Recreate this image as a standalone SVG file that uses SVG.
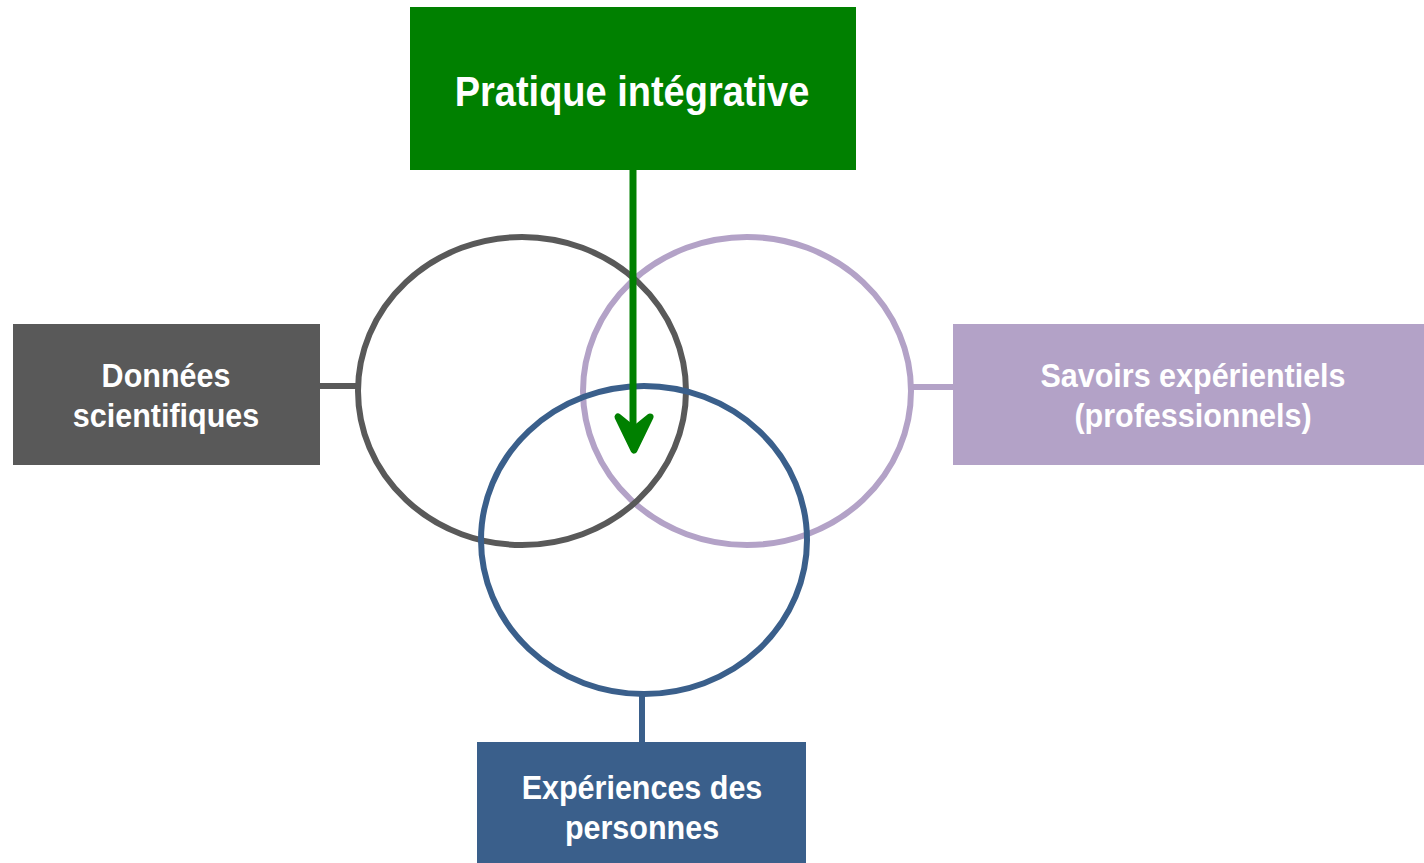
<svg xmlns="http://www.w3.org/2000/svg" width="1424" height="863" viewBox="0 0 1424 863">
<style>
.lbl{font-family:"Liberation Sans",Arial,sans-serif;font-weight:bold;fill:#ffffff;text-anchor:middle}
.ring{fill:none;stroke-width:6}
</style>
<rect width="1424" height="863" fill="#ffffff"/>
<g id="connectors">
<line x1="320" y1="386" x2="358" y2="386" stroke="#595959" stroke-width="6"/>
<line x1="911" y1="387" x2="953" y2="387" stroke="#b3a2c7" stroke-width="6"/>
<line x1="642" y1="694" x2="642" y2="742" stroke="#3a5f8b" stroke-width="6"/>
</g>
<g id="circles">
<ellipse id="circle-exp" class="ring" cx="747" cy="391" rx="164" ry="154" stroke="#b3a2c7"/>
<ellipse id="circle-sci" class="ring" cx="522" cy="391" rx="164" ry="154" stroke="#595959"/>
<ellipse id="circle-pers" class="ring" cx="644" cy="540" rx="163" ry="154" stroke="#3a5f8b"/>
</g>
<g id="arrow">
<line x1="633" y1="170" x2="633" y2="438" stroke="#008000" stroke-width="7"/>
<path d="M618,417 L634,450 L650,417 L634,430 Z" fill="#008000" stroke="#008000" stroke-width="7" stroke-linejoin="round" stroke-linecap="round"/>
</g>
<g id="node-pratique">
<rect x="410" y="7" width="446" height="163" fill="#008000"/>
<text class="lbl" transform="translate(632,106) scale(1,1.12)" font-size="38">Pratique intégrative</text>
</g>
<g id="node-donnees">
<rect x="13" y="324" width="307" height="141" fill="#595959"/>
<text class="lbl" transform="translate(166,387) scale(1,1.1)" font-size="30.5">Données</text>
<text class="lbl" transform="translate(166,427) scale(1,1.1)" font-size="30.5">scientifiques</text>
</g>
<g id="node-savoirs">
<rect x="953" y="324" width="471" height="141" fill="#b3a2c7"/>
<text class="lbl" transform="translate(1193,387) scale(1,1.1)" font-size="30.5">Savoirs expérientiels</text>
<text class="lbl" transform="translate(1193,427) scale(1,1.1)" font-size="30.5">(professionnels)</text>
</g>
<g id="node-experiences">
<rect x="477" y="742" width="329" height="121" fill="#3a5f8b"/>
<text class="lbl" transform="translate(642,799) scale(1,1.1)" font-size="30.5">Expériences des</text>
<text class="lbl" transform="translate(642,839) scale(1,1.1)" font-size="30.5">personnes</text>
</g>
</svg>
